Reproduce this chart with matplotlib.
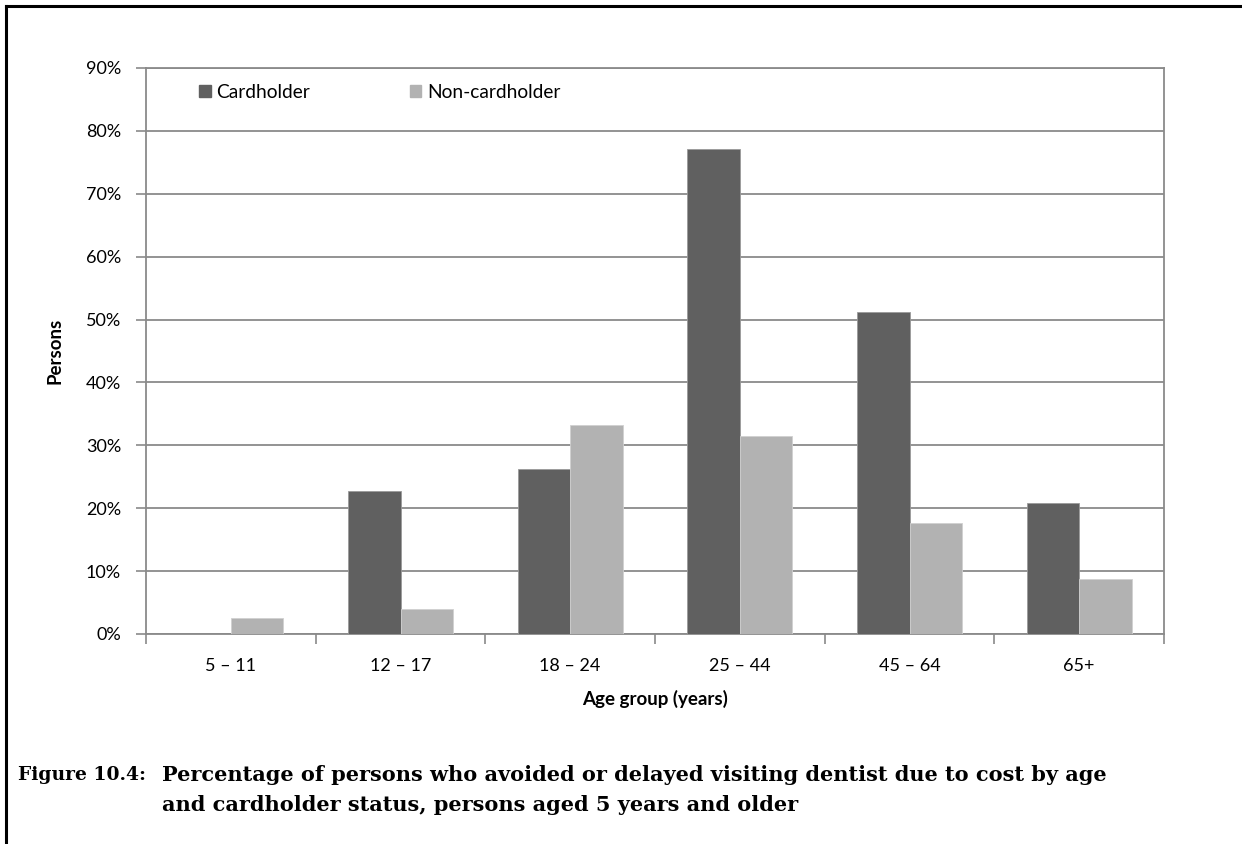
import matplotlib
matplotlib.use("Agg")
import matplotlib.pyplot as plt
import numpy as np
from matplotlib.patches import Patch
from matplotlib.lines import Line2D
from matplotlib.ticker import FuncFormatter, MultipleLocator

categories = ["5 – 11", "12 – 17", "18 – 24", "25 – 44", "45 – 64", "65+"]
cardholder = [0.0, 22.8, 26.3, 77.1, 51.2, 20.8]
non_cardholder = [2.6, 4.0, 33.2, 31.5, 17.6, 8.7]
series_names = ["Cardholder", "Non-cardholder"]
colors = ["#606060", "#b2b2b2"]

W, H = 1242, 844
fig = plt.figure(figsize=(W / 100, H / 100), dpi=100)
ax = fig.add_axes([146 / W, 1 - 634 / H, (1164 - 146) / W, (634 - 68) / H])

x = np.arange(len(categories))
bw = 0.31
ax.bar(x - bw / 2, cardholder, bw, color=colors[0], edgecolor="#9a9a9a", linewidth=0.6, zorder=3)
ax.bar(x + bw / 2, non_cardholder, bw, color=colors[1], edgecolor="#d0d0d0", linewidth=0.6, zorder=3)

ax.set_xlim(-0.5, len(categories) - 0.5)
ax.set_ylim(0, 90)
ax.yaxis.set_major_locator(MultipleLocator(10))
ax.yaxis.set_major_formatter(FuncFormatter(lambda v, p: f"{v:.0f}%"))
ax.grid(axis="y", color="#8a8a8a", linewidth=1.3, zorder=0)
ax.set_axisbelow(True)

font = "Lato"
ax.set_xticks(x)
ax.set_xticklabels(categories)
ax.set_xticks(np.arange(len(categories) + 1) - 0.5, minor=True)
ax.tick_params(axis="x", which="major", length=0, pad=17, labelsize=13)
ax.tick_params(axis="x", which="minor", length=7, width=1.2, color="#8a8a8a", direction="out")
ax.tick_params(axis="y", length=7, width=1.2, color="#8a8a8a", labelsize=13, pad=11)

for s in ["top", "right", "left", "bottom"]:
    ax.spines[s].set_color("#8a8a8a")
    ax.spines[s].set_linewidth(1.3)

for lab in ax.get_xticklabels() + ax.get_yticklabels():
    lab.set_family(font)

ax.set_xlabel("Age group (years)", fontsize=13.5, fontweight="bold", family=font, labelpad=12)
ax.set_ylabel("Persons", fontsize=13.5, fontweight="bold", family=font, labelpad=16)

handles = [Patch(facecolor=c, edgecolor=c) for c in colors]
ax.legend(handles, series_names, ncol=2, loc="center left",
          bbox_to_anchor=((199 - 146) / 1018, (634 - 92) / 566),
          frameon=False, borderpad=0, borderaxespad=0,
          handlelength=0.6, handleheight=0.6, handletextpad=0.3,
          columnspacing=5.2, prop={"family": font, "size": 13.8})

# figure border (left and top)
fig.add_artist(Line2D([6 / W, 6 / W], [0, 1 - 6 / H], color="black", linewidth=2.2))
fig.add_artist(Line2D([6 / W, 1], [1 - 6 / H, 1 - 6 / H], color="black", linewidth=2.2))

cap_font = "DejaVu Serif"
cap_size = 15
fig.text(18 / W, 1 - 775 / H, "Figure 10.4:", fontsize=13.5, fontweight="bold", family=cap_font, va="center")
fig.text(162 / W, 1 - 775 / H,
         "Percentage of persons who avoided or delayed visiting dentist due to cost by age",
         fontsize=cap_size, fontweight="bold", family=cap_font, va="center")
fig.text(162 / W, 1 - 805 / H, "and cardholder status, persons aged 5 years and older",
         fontsize=cap_size, fontweight="bold", family=cap_font, va="center")

fig.savefig("out.png", dpi=100, facecolor="white")
